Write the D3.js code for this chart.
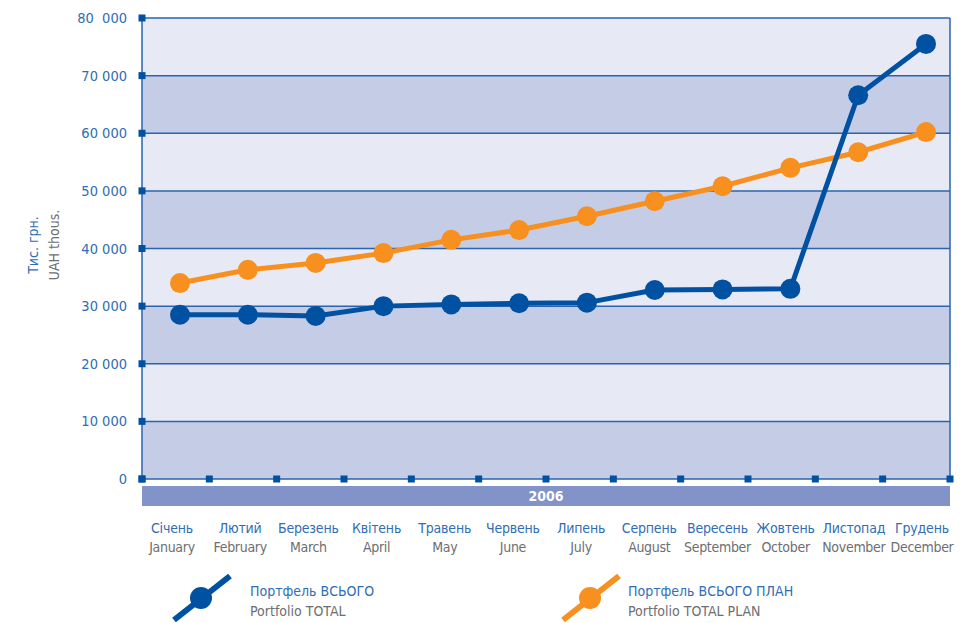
<!DOCTYPE html>
<html><head><meta charset="utf-8">
<script src="https://cdn.jsdelivr.net/npm/d3@7"></script>
<style>
body{margin:0;background:#fff;}
svg text{font-family:"Liberation Sans Narrow","DejaVu Sans Condensed","Roboto",sans-serif;}
</style></head>
<body><svg id="c" width="970" height="623"></svg>
<script>
const monthsUa = ["Січень","Лютий","Березень","Квітень","Травень","Червень","Липень","Серпень","Вересень","Жовтень","Листопад","Грудень"];
const monthsEn = ["January","February","March","April","May","June","July","August","September","October","November","December"];
const portfolioTotal = [28500,28500,28300,30000,30300,30500,30600,32800,32900,33000,66600,75500];
const portfolioPlan = [34000,36300,37500,39200,41500,43200,45600,48200,50800,54000,56700,60200];
const yTicks = [0,10000,20000,30000,40000,50000,60000,70000,80000];
const yTickLabels = ["0","10 000","20 000","30 000","40 000","50 000","60 000","70 000","80  000"];
const yearLabel = "2006";

const svg = d3.select("#c");
const L=142,R=950,T=18,B=479;
const BLUE="#0051a2", ORANGE="#f7901e", TXT="#2f6db5", GRAY="#6d6e71";
const y = d3.scaleLinear().domain([0,80000]).range([B,T]);
const x = d3.scalePoint().domain(monthsEn).range([180,926]);
const xl = d3.scalePoint().domain(monthsEn).range([172,922]);
const xt = d3.scaleLinear().domain([0,12]).range([L,R]);

// bands
const bands = d3.range(8);
svg.selectAll("rect.band").data(bands).enter().append("rect")
  .attr("x",L).attr("width",R-L)
  .attr("y",d=>y(yTicks[d+1])).attr("height",d=>y(yTicks[d])-y(yTicks[d+1]))
  .attr("fill",d=>d%2===0?"#c5cce6":"#e7e9f5");
// grid
svg.selectAll("line.grid").data(yTicks).enter().append("line")
  .attr("x1",L).attr("x2",R).attr("y1",d=>y(d)).attr("y2",d=>y(d))
  .attr("stroke","#2a64b0").attr("stroke-width",1.5);
svg.append("line").attr("x1",L).attr("x2",L).attr("y1",T).attr("y2",B).attr("stroke","#2a64b0").attr("stroke-width",1.5);
svg.append("line").attr("x1",R).attr("x2",R).attr("y1",T).attr("y2",B).attr("stroke","#2a64b0").attr("stroke-width",1.5);
// tick squares
svg.selectAll("rect.yt").data(yTicks).enter().append("rect")
  .attr("x",L-3.5).attr("y",d=>y(d)-3.5).attr("width",7).attr("height",7).attr("fill",BLUE);
svg.selectAll("rect.xt").data(d3.range(13)).enter().append("rect")
  .attr("x",d=>xt(d)-3.5).attr("y",B-3.5).attr("width",7).attr("height",7).attr("fill",BLUE);
// y labels
svg.selectAll("text.yl").data(yTicks).enter().append("text")
  .attr("x",127).attr("y",d=>y(d)+5).attr("text-anchor","end")
  .attr("fill",TXT).attr("font-size",14.5).style("white-space","pre")
  .text((d,i)=>yTickLabels[i]);
// y titles
svg.append("text").attr("transform","translate(38,245) rotate(-90)").attr("text-anchor","middle")
  .attr("fill",TXT).attr("font-size",14).text("Тис. грн.");
svg.append("text").attr("transform","translate(59,245) rotate(-90)").attr("text-anchor","middle")
  .attr("fill",GRAY).attr("font-size",14).text("UAH thous.");
// year bar
svg.append("rect").attr("x",L).attr("y",486).attr("width",R-L).attr("height",20).attr("fill","#8193c8");
svg.append("text").attr("x",(L+R)/2).attr("y",501).attr("text-anchor","middle").attr("fill","#fff")
  .attr("font-weight","bold").attr("font-size",14).text(yearLabel);
// month labels
svg.selectAll("text.mu").data(monthsEn).enter().append("text")
  .attr("x",d=>xl(d)).attr("y",533).attr("text-anchor","middle").attr("fill",TXT).attr("font-size",14)
  .attr("letter-spacing",-0.2).text((d,i)=>monthsUa[i]);
svg.selectAll("text.me").data(monthsEn).enter().append("text")
  .attr("x",d=>xl(d)).attr("y",552).attr("text-anchor","middle").attr("fill",GRAY).attr("font-size",14)
  .attr("letter-spacing",-0.3).text(d=>d);
// series
function drawSeries(vals,color){
  const line = d3.line().x((d,i)=>x(monthsEn[i])).y(d=>y(d));
  svg.append("path").attr("d",line(vals)).attr("fill","none").attr("stroke",color).attr("stroke-width",5).attr("stroke-linejoin","round");
  svg.selectAll(null).data(vals).enter().append("circle")
    .attr("cx",(d,i)=>x(monthsEn[i])).attr("cy",d=>y(d)).attr("r",10).attr("fill",color);
}
drawSeries(portfolioPlan,ORANGE);
drawSeries(portfolioTotal,BLUE);
// legend
function legend(x0,tx,color,ua,en){
  svg.append("line").attr("x1",x0).attr("y1",620).attr("x2",x0+56).attr("y2",576).attr("stroke",color).attr("stroke-width",6);
  svg.append("circle").attr("cx",x0+27).attr("cy",598).attr("r",11).attr("fill",color);
  svg.append("text").attr("x",tx).attr("y",596).attr("fill",TXT).attr("font-size",14).text(ua);
  svg.append("text").attr("x",tx).attr("y",616).attr("fill",GRAY).attr("font-size",14).text(en);
}
legend(174,250,BLUE,"Портфель ВСЬОГО","Portfolio TOTAL");
legend(563,628,ORANGE,"Портфель ВСЬОГО ПЛАН","Portfolio TOTAL PLAN");
</script></body></html>
